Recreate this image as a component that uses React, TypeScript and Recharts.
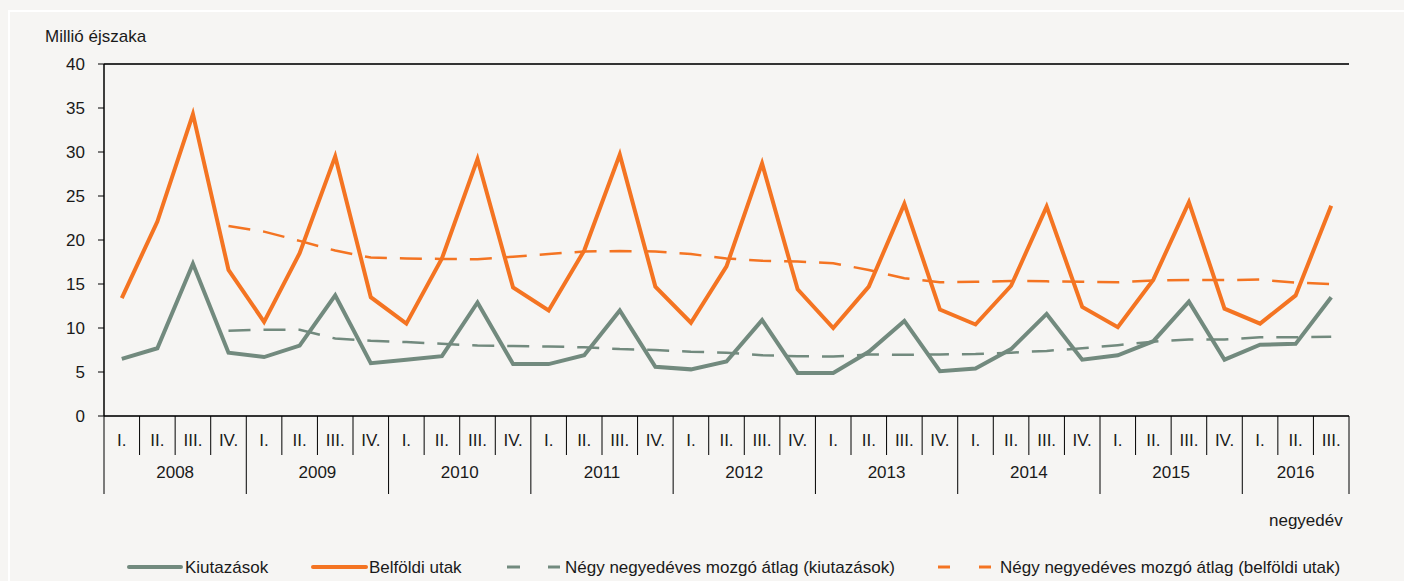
import { LineChart, Line, XAxis, YAxis, CartesianGrid, ReferenceLine } from "recharts";

// quarters 2008 I. – 2016 III.
const quarters = [
  "I.", "II.", "III.", "IV.", "I.", "II.", "III.", "IV.", "I.", "II.", "III.", "IV.",
  "I.", "II.", "III.", "IV.", "I.", "II.", "III.", "IV.", "I.", "II.", "III.", "IV.",
  "I.", "II.", "III.", "IV.", "I.", "II.", "III.", "IV.", "I.", "II.", "III.",
];
const years = [
  "2008", "2008", "2008", "2008", "2009", "2009", "2009", "2009", "2010", "2010", "2010", "2010",
  "2011", "2011", "2011", "2011", "2012", "2012", "2012", "2012", "2013", "2013", "2013", "2013",
  "2014", "2014", "2014", "2014", "2015", "2015", "2015", "2015", "2016", "2016", "2016",
];

// million nights
const kiutazasok = [
  6.5, 7.7, 17.3, 7.2, 6.7, 8.0, 13.7, 6.0, 6.4, 6.8, 12.9, 5.9,
  5.9, 6.9, 12.0, 5.6, 5.3, 6.2, 10.9, 4.9, 4.9, 7.3, 10.8, 5.1,
  5.4, 7.6, 11.6, 6.4, 6.9, 8.5, 13.0, 6.4, 8.1, 8.2, 13.5,
];
const belfoldiUtak = [
  13.4, 22.1, 34.3, 16.6, 10.7, 18.5, 29.5, 13.5, 10.5, 17.9, 29.2, 14.6,
  12.0, 18.8, 29.7, 14.7, 10.6, 17.0, 28.7, 14.4, 10.0, 14.7, 24.1, 12.1,
  10.4, 14.8, 23.8, 12.4, 10.1, 15.5, 24.3, 12.2, 10.5, 13.7, 23.9,
];
const atlagKiutazasok = [
  null, null, null, 9.7, 9.8, 9.8, 8.8, 8.55, 8.4, 8.2, 8.0, 7.95,
  7.9, 7.8, 7.6, 7.5, 7.3, 7.2, 6.9, 6.8, 6.75, 7.0, 6.95, 7.0,
  7.05, 7.2, 7.4, 7.7, 8.05, 8.45, 8.7, 8.7, 8.95, 8.95, 9.0,
];
const atlagBelfoldi = [
  null, null, null, 21.6, 20.95, 19.9, 18.8, 18.0, 17.9, 17.85, 17.8, 18.1,
  18.4, 18.7, 18.75, 18.7, 18.4, 17.9, 17.65, 17.55, 17.35, 16.6, 15.65, 15.2,
  15.25, 15.35, 15.3, 15.25, 15.2, 15.4, 15.45, 15.45, 15.5, 15.15, 15.0,
];
const yTicks = [0, 5, 10, 15, 20, 25, 30, 35, 40];

const data = quarters.map((q, i) => ({
  q,
  year: years[i],
  kiut: kiutazasok[i],
  belf: belfoldiUtak[i],
  maKiut: atlagKiutazasok[i],
  maBelf: atlagBelfoldi[i],
}));

const GRAY = "#728A7E";
const ORANGE = "#F47422";
const TEXT = "#1a1a1a";
const FONT = "'Liberation Sans', Arial, sans-serif";

const PLOT_LEFT = 104;
const PLOT_RIGHT = 1349;
const PLOT_TOP = 64;
const PLOT_BOTTOM = 416;
const BW = (PLOT_RIGHT - PLOT_LEFT) / quarters.length;

function QuarterTick(props: any) {
  const { x, index } = props;
  const left = x - BW / 2;
  const right = x + BW / 2;
  const yearStart = index === 0 || years[index] !== years[index - 1];
  const last = index === quarters.length - 1;
  let yearLabel = null;
  if (yearStart) {
    const count = years.filter((y) => y === years[index]).length;
    yearLabel = (
      <text x={left + (count * BW) / 2} y={PLOT_BOTTOM + 62} textAnchor="middle" fontSize={17} fill={TEXT}>
        {years[index]}
      </text>
    );
  }
  return (
    <g>
      <line x1={left} x2={left} y1={PLOT_BOTTOM} y2={PLOT_BOTTOM + (yearStart ? 78 : 39)} stroke="#000" />
      {last && <line x1={right} x2={right} y1={PLOT_BOTTOM} y2={PLOT_BOTTOM + 78} stroke="#000" />}
      <text x={x} y={PLOT_BOTTOM + 30} textAnchor="middle" fontSize={17} fill={TEXT}>
        {quarters[index]}
      </text>
      {yearLabel}
    </g>
  );
}

function LegendBar() {
  const ty = 573;
  return (
    <svg width={1404} height={581} style={{ position: "absolute", left: 0, top: 0, pointerEvents: "none" }}>
      <g fontFamily={FONT} fontSize={17} fill={TEXT}>
        <text x={45} y={42}>Millió éjszaka</text>
        <text x={1269} y={526}>negyedév</text>

        <line x1={129} x2={181} y1={567} y2={567} stroke={GRAY} strokeWidth={4} strokeLinecap="round" />
        <text x={185} y={ty}>Kiutazások</text>

        <line x1={313} x2={366} y1={567} y2={567} stroke={ORANGE} strokeWidth={4} strokeLinecap="round" />
        <text x={369} y={ty}>Belföldi utak</text>

        <line x1={507} x2={520} y1={567} y2={567} stroke={GRAY} strokeWidth={3} />
        <line x1={548} x2={560} y1={567} y2={567} stroke={GRAY} strokeWidth={3} />
        <text x={565} y={ty}>Négy negyedéves mozgó átlag (kiutazások)</text>

        <line x1={938} x2={950} y1={567} y2={567} stroke={ORANGE} strokeWidth={3} />
        <line x1={979} x2={991} y1={567} y2={567} stroke={ORANGE} strokeWidth={3} />
        <text x={1000} y={ty}>Négy negyedéves mozgó átlag (belföldi utak)</text>
      </g>
    </svg>
  );
}

export default function App() {
  return (
    <div
      style={{
        position: "absolute",
        left: 0,
        top: 0,
        width: 1404,
        height: 581,
        background: "#F6F5F3",
        fontFamily: FONT,
        overflow: "hidden",
      }}
    >
      <div
        style={{
          position: "absolute",
          left: 8,
          top: 10,
          width: 1404,
          height: 581,
          borderLeft: "2px solid #fff",
          borderTop: "2px solid #fff",
        }}
      />
      <LineChart
        width={1404}
        height={581}
        data={data}
        margin={{ top: PLOT_TOP, right: 1404 - PLOT_RIGHT, left: PLOT_LEFT - 60, bottom: 581 - PLOT_BOTTOM - 78 }}
        style={{ position: "absolute", left: 0, top: 0, fontFamily: FONT }}
      >
        <CartesianGrid vertical={false} stroke="#A0A0A0" strokeWidth={1} />
        <XAxis
          dataKey="q"
          height={78}
          interval={0}
          padding={{ left: BW / 2, right: BW / 2 }}
          tickLine={false}
          axisLine={{ stroke: "#000", strokeWidth: 1.5 }}
          tick={(p: any) => <QuarterTick {...p} />}
        />
        <YAxis
          yAxisId="left"
          width={60}
          domain={[0, 40]}
          ticks={yTicks}
          interval={0}
          tickSize={6}
          tickMargin={13}
          axisLine={{ stroke: "#000", strokeWidth: 1.5 }}
          tickLine={{ stroke: "#000" }}
          tick={{ fontSize: 17, fill: TEXT }}
        />
        <YAxis
          yAxisId="right"
          orientation="right"
          width={0}
          domain={[0, 40]}
          tick={false}
          tickLine={false}
          axisLine={{ stroke: "#555", strokeWidth: 2 }}
        />
        <ReferenceLine yAxisId="left" y={40} stroke="#000" strokeWidth={1.5} />
        <Line
          yAxisId="left"
          dataKey="maKiut"
          stroke={GRAY}
          strokeWidth={2.5}
          strokeDasharray="22 13"
          dot={false}
          activeDot={false}
          isAnimationActive={false}
        />
        <Line
          yAxisId="left"
          dataKey="maBelf"
          stroke={ORANGE}
          strokeWidth={2.5}
          strokeDasharray="22 13"
          dot={false}
          activeDot={false}
          isAnimationActive={false}
        />
        <Line
          yAxisId="left"
          dataKey="kiut"
          stroke={GRAY}
          strokeWidth={4}
          dot={false}
          activeDot={false}
          isAnimationActive={false}
        />
        <Line
          yAxisId="left"
          dataKey="belf"
          stroke={ORANGE}
          strokeWidth={4}
          dot={false}
          activeDot={false}
          isAnimationActive={false}
        />
      </LineChart>
      <LegendBar />
    </div>
  );
}
